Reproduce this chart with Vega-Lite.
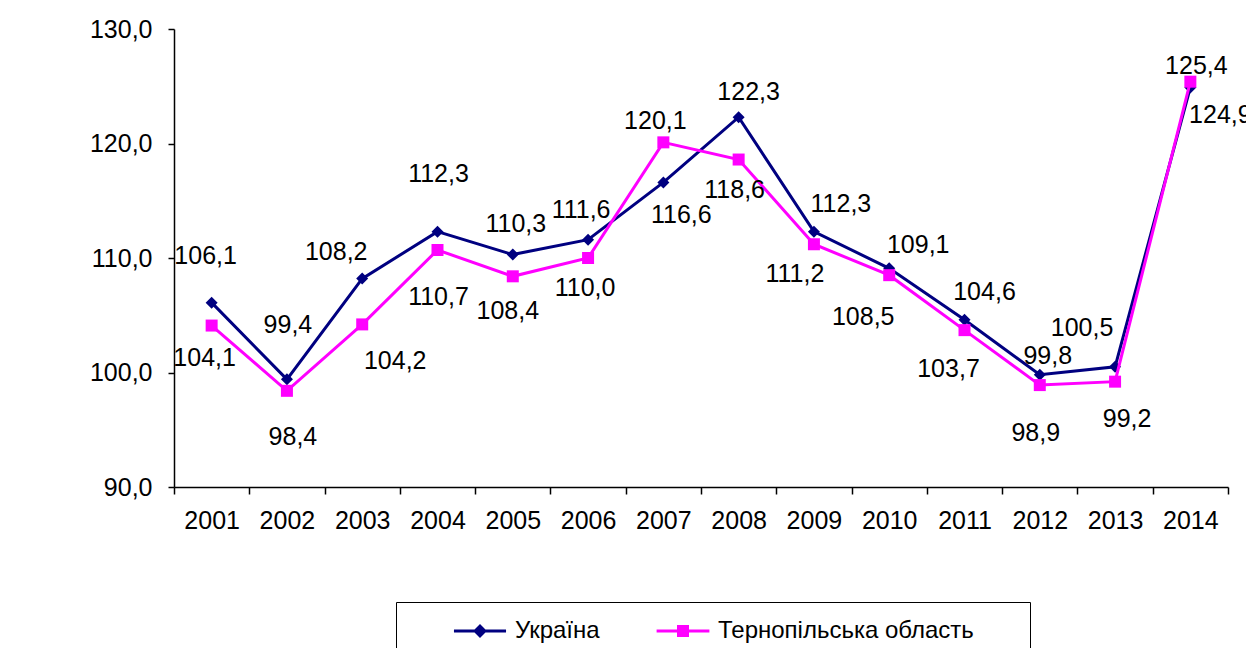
{
  "$schema": "https://vega.github.io/schema/vega-lite/v6.json",
  "width": 1054,
  "height": 458,
  "autosize": {"type": "none"},
  "padding": {"left": 174, "top": 29, "right": 18, "bottom": 161},
  "background": "white",
  "config": {
    "locale": {"number": {"decimal": ",", "thousands": " ", "grouping": [3], "currency": ["", ""]}},
    "view": {"stroke": null},
    "font": "Liberation Sans",
    "axis": {"labelFont": "Liberation Sans", "labelFontSize": 25, "labelColor": "black", "domainColor": "black", "tickColor": "black", "domainWidth": 1.5, "tickWidth": 1.5, "grid": false, "title": null},
    "text": {"fontSize": 25, "font": "Liberation Sans", "color": "black"}
  },
  "data": {"values": [
    {"year": "2001", "series": "Україна", "value": 106.1},
    {"year": "2002", "series": "Україна", "value": 99.4},
    {"year": "2003", "series": "Україна", "value": 108.2},
    {"year": "2004", "series": "Україна", "value": 112.3},
    {"year": "2005", "series": "Україна", "value": 110.3},
    {"year": "2006", "series": "Україна", "value": 111.6},
    {"year": "2007", "series": "Україна", "value": 116.6},
    {"year": "2008", "series": "Україна", "value": 122.3},
    {"year": "2009", "series": "Україна", "value": 112.3},
    {"year": "2010", "series": "Україна", "value": 109.1},
    {"year": "2011", "series": "Україна", "value": 104.6},
    {"year": "2012", "series": "Україна", "value": 99.8},
    {"year": "2013", "series": "Україна", "value": 100.5},
    {"year": "2014", "series": "Україна", "value": 124.9},
    {"year": "2001", "series": "Тернопільська область", "value": 104.1},
    {"year": "2002", "series": "Тернопільська область", "value": 98.4},
    {"year": "2003", "series": "Тернопільська область", "value": 104.2},
    {"year": "2004", "series": "Тернопільська область", "value": 110.7},
    {"year": "2005", "series": "Тернопільська область", "value": 108.4},
    {"year": "2006", "series": "Тернопільська область", "value": 110.0},
    {"year": "2007", "series": "Тернопільська область", "value": 120.1},
    {"year": "2008", "series": "Тернопільська область", "value": 118.6},
    {"year": "2009", "series": "Тернопільська область", "value": 111.2},
    {"year": "2010", "series": "Тернопільська область", "value": 108.5},
    {"year": "2011", "series": "Тернопільська область", "value": 103.7},
    {"year": "2012", "series": "Тернопільська область", "value": 98.9},
    {"year": "2013", "series": "Тернопільська область", "value": 99.2},
    {"year": "2014", "series": "Тернопільська область", "value": 125.4}
  ]},
  "encoding": {
    "x": {"field": "year", "type": "ordinal", "scale": {"type": "band", "paddingInner": 0, "paddingOuter": 0}, "axis": {"labelAngle": 0, "tickBand": "extent", "tickSize": 7, "labelPadding": 14}},
    "y": {"field": "value", "type": "quantitative", "scale": {"domain": [90, 130], "nice": false, "zero": false}, "axis": {"values": [90, 100, 110, 120, 130], "format": ".1f", "tickSize": 6, "labelPadding": 16}}
  },
  "layer": [
    {"transform": [{"filter": "datum.series === 'Україна'"}], "mark": {"type": "line", "strokeWidth": 3, "color": "#000080"}, "encoding": {"order": {"field": "year"}}},
    {"transform": [{"filter": "datum.series === 'Україна'"}], "mark": {"type": "point", "shape": "diamond", "filled": true, "size": 144, "opacity": 1, "color": "#000080"}, "encoding": {}},
    {"transform": [{"filter": "datum.series !== 'Україна'"}], "mark": {"type": "line", "strokeWidth": 3, "color": "#FF00FF"}, "encoding": {"order": {"field": "year"}}},
    {"transform": [{"filter": "datum.series !== 'Україна'"}], "mark": {"type": "point", "shape": "square", "filled": true, "size": 144, "opacity": 1, "color": "#FF00FF"}, "encoding": {}},
    {
      "transform": [{"filter": "false"}],
      "mark": {"type": "point", "filled": true, "opacity": 1},
      "encoding": {
        "color": {"field": "series", "type": "nominal",
          "scale": {"domain": ["Україна", "Тернопільська область"], "range": ["#000080", "#FF00FF"]},
          "legend": {"orient": "none", "legendX": 222, "legendY": 573, "direction": "horizontal", "title": null,
            "strokeColor": "black", "fillColor": "white", "padding": 16, "labelFont": "Liberation Sans", "labelFontSize": 24, "labelColor": "black",
            "symbolSize": 576, "symbolOpacity": 1, "symbolOffset": 55, "labelOffset": 22, "columnPadding": 15, "labelLimit": 500,
            "labelExpr": "datum.label === 'Україна' ? datum.label : 'Тернопільська область\u00a0\u00a0\u00a0\u00a0\u00a0\u00a0\u200b'"}
        },
        "shape": {"field": "series", "type": "nominal",
          "scale": {"domain": ["Україна", "Тернопільська область"], "range": ["M-2.17,-0.125H2.17V0.125H-2.17Z M0,-0.58L0.58,0L0,0.58L-0.58,0Z", "M-2.2,-0.125H2.2V0.125H-2.2Z M-0.5,-0.5H0.5V0.5H-0.5Z"]},
          "legend": {"orient": "none", "legendX": 222, "legendY": 573, "direction": "horizontal", "title": null,
            "strokeColor": "black", "fillColor": "white", "padding": 16, "labelFont": "Liberation Sans", "labelFontSize": 24, "labelColor": "black",
            "symbolSize": 576, "symbolOpacity": 1, "symbolOffset": 55, "labelOffset": 22, "columnPadding": 15, "labelLimit": 500,
            "labelExpr": "datum.label === 'Україна' ? datum.label : 'Тернопільська область\u00a0\u00a0\u00a0\u00a0\u00a0\u00a0\u200b'"}
        }
      }
    },
    {"transform": [{"filter": "datum.series === 'Україна' && datum.year === '2001'"}], "mark": {"type": "text", "dx": -6, "dy": -47}, "encoding": {"text": {"field": "value", "type": "quantitative", "format": ".1f"}}},
    {"transform": [{"filter": "datum.series === 'Україна' && datum.year === '2002'"}], "mark": {"type": "text", "dx": 1, "dy": -54}, "encoding": {"text": {"field": "value", "type": "quantitative", "format": ".1f"}}},
    {"transform": [{"filter": "datum.series === 'Україна' && datum.year === '2003'"}], "mark": {"type": "text", "dx": -26, "dy": -27}, "encoding": {"text": {"field": "value", "type": "quantitative", "format": ".1f"}}},
    {"transform": [{"filter": "datum.series === 'Україна' && datum.year === '2004'"}], "mark": {"type": "text", "dx": 1, "dy": -58}, "encoding": {"text": {"field": "value", "type": "quantitative", "format": ".1f"}}},
    {"transform": [{"filter": "datum.series === 'Україна' && datum.year === '2005'"}], "mark": {"type": "text", "dx": 3, "dy": -31}, "encoding": {"text": {"field": "value", "type": "quantitative", "format": ".1f"}}},
    {"transform": [{"filter": "datum.series === 'Україна' && datum.year === '2006'"}], "mark": {"type": "text", "dx": -7, "dy": -30}, "encoding": {"text": {"field": "value", "type": "quantitative", "format": ".1f"}}},
    {"transform": [{"filter": "datum.series === 'Україна' && datum.year === '2007'"}], "mark": {"type": "text", "dx": 18, "dy": 33}, "encoding": {"text": {"field": "value", "type": "quantitative", "format": ".1f"}}},
    {"transform": [{"filter": "datum.series === 'Україна' && datum.year === '2008'"}], "mark": {"type": "text", "dx": 10, "dy": -25}, "encoding": {"text": {"field": "value", "type": "quantitative", "format": ".1f"}}},
    {"transform": [{"filter": "datum.series === 'Україна' && datum.year === '2009'"}], "mark": {"type": "text", "dx": 27, "dy": -28}, "encoding": {"text": {"field": "value", "type": "quantitative", "format": ".1f"}}},
    {"transform": [{"filter": "datum.series === 'Україна' && datum.year === '2010'"}], "mark": {"type": "text", "dx": 29, "dy": -23}, "encoding": {"text": {"field": "value", "type": "quantitative", "format": ".1f"}}},
    {"transform": [{"filter": "datum.series === 'Україна' && datum.year === '2011'"}], "mark": {"type": "text", "dx": 20, "dy": -28}, "encoding": {"text": {"field": "value", "type": "quantitative", "format": ".1f"}}},
    {"transform": [{"filter": "datum.series === 'Україна' && datum.year === '2012'"}], "mark": {"type": "text", "dx": 8, "dy": -19}, "encoding": {"text": {"field": "value", "type": "quantitative", "format": ".1f"}}},
    {"transform": [{"filter": "datum.series === 'Україна' && datum.year === '2013'"}], "mark": {"type": "text", "dx": -33, "dy": -39}, "encoding": {"text": {"field": "value", "type": "quantitative", "format": ".1f"}}},
    {"transform": [{"filter": "datum.series === 'Україна' && datum.year === '2014'"}], "mark": {"type": "text", "dx": 30, "dy": 28}, "encoding": {"text": {"field": "value", "type": "quantitative", "format": ".1f"}}},
    {"transform": [{"filter": "datum.series !== 'Україна' && datum.year === '2001'"}], "mark": {"type": "text", "dx": -7, "dy": 32}, "encoding": {"text": {"field": "value", "type": "quantitative", "format": ".1f"}}},
    {"transform": [{"filter": "datum.series !== 'Україна' && datum.year === '2002'"}], "mark": {"type": "text", "dx": 6, "dy": 46}, "encoding": {"text": {"field": "value", "type": "quantitative", "format": ".1f"}}},
    {"transform": [{"filter": "datum.series !== 'Україна' && datum.year === '2003'"}], "mark": {"type": "text", "dx": 33, "dy": 37}, "encoding": {"text": {"field": "value", "type": "quantitative", "format": ".1f"}}},
    {"transform": [{"filter": "datum.series !== 'Україна' && datum.year === '2004'"}], "mark": {"type": "text", "dx": 1, "dy": 47}, "encoding": {"text": {"field": "value", "type": "quantitative", "format": ".1f"}}},
    {"transform": [{"filter": "datum.series !== 'Україна' && datum.year === '2005'"}], "mark": {"type": "text", "dx": -5, "dy": 35}, "encoding": {"text": {"field": "value", "type": "quantitative", "format": ".1f"}}},
    {"transform": [{"filter": "datum.series !== 'Україна' && datum.year === '2006'"}], "mark": {"type": "text", "dx": -3, "dy": 30}, "encoding": {"text": {"field": "value", "type": "quantitative", "format": ".1f"}}},
    {"transform": [{"filter": "datum.series !== 'Україна' && datum.year === '2007'"}], "mark": {"type": "text", "dx": -8, "dy": -21}, "encoding": {"text": {"field": "value", "type": "quantitative", "format": ".1f"}}},
    {"transform": [{"filter": "datum.series !== 'Україна' && datum.year === '2008'"}], "mark": {"type": "text", "dx": -4, "dy": 30}, "encoding": {"text": {"field": "value", "type": "quantitative", "format": ".1f"}}},
    {"transform": [{"filter": "datum.series !== 'Україна' && datum.year === '2009'"}], "mark": {"type": "text", "dx": -19, "dy": 30}, "encoding": {"text": {"field": "value", "type": "quantitative", "format": ".1f"}}},
    {"transform": [{"filter": "datum.series !== 'Україна' && datum.year === '2010'"}], "mark": {"type": "text", "dx": -26, "dy": 42}, "encoding": {"text": {"field": "value", "type": "quantitative", "format": ".1f"}}},
    {"transform": [{"filter": "datum.series !== 'Україна' && datum.year === '2011'"}], "mark": {"type": "text", "dx": -16, "dy": 39}, "encoding": {"text": {"field": "value", "type": "quantitative", "format": ".1f"}}},
    {"transform": [{"filter": "datum.series !== 'Україна' && datum.year === '2012'"}], "mark": {"type": "text", "dx": -4, "dy": 48}, "encoding": {"text": {"field": "value", "type": "quantitative", "format": ".1f"}}},
    {"transform": [{"filter": "datum.series !== 'Україна' && datum.year === '2013'"}], "mark": {"type": "text", "dx": 12, "dy": 37}, "encoding": {"text": {"field": "value", "type": "quantitative", "format": ".1f"}}},
    {"transform": [{"filter": "datum.series !== 'Україна' && datum.year === '2014'"}], "mark": {"type": "text", "dx": 6, "dy": -16}, "encoding": {"text": {"field": "value", "type": "quantitative", "format": ".1f"}}}
  ]
}
